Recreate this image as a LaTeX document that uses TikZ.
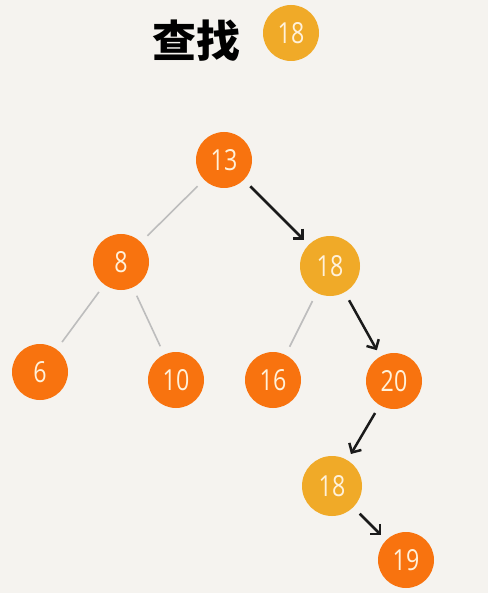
\documentclass[tikz,border=0pt]{standalone}
\usepackage{fontspec}
\newfontfamily\cjk{Noto Sans CJK SC}
\newfontfamily\numfont{Open Sans}[FakeStretch=0.8]
\usetikzlibrary{arrows.meta}
\definecolor{bg}{HTML}{F5F3EF}
\definecolor{orangenode}{HTML}{F8730F}
\definecolor{yellownode}{HTML}{F0AA28}
\definecolor{numtext}{HTML}{FFF1DA}
\definecolor{grayline}{HTML}{BDBDBD}
\definecolor{arrowblack}{HTML}{1A1A1A}
\tikzset{
  x=1pt,y=-1pt,
  onode/.style={circle,fill=orangenode,minimum size=56pt,inner sep=0pt,text=numtext,font=\numfont\fontsize{29}{29}\selectfont},
  ynode/.style={onode,fill=yellownode,minimum size=60pt},
  grayedge/.style={draw=grayline,line width=1.6pt,shorten <=9pt,shorten >=9pt},
  searcharrow/.style={draw=arrowblack,line width=2.5pt,-{Straight Barb[length=7pt,width=14pt,line width=2.5pt]},shorten <=9pt,shorten >=7pt},
}
\begin{document}
\begin{tikzpicture}
\fill[bg] (0,0) rectangle (488,593);
\useasboundingbox (0,0) rectangle (488,593);
\node[font=\cjk\bfseries\fontsize{44}{44}\selectfont] (title) at (196,41) {查找};
\node[ynode,minimum size=56pt] (key) at (291,33) {18};
\node[onode] (n13) at (224,160) {13};
\node[onode] (n8) at (121,262) {8};
\node[ynode] (n18) at (330,266) {18};
\node[onode] (n6) at (40,372) {6};
\node[onode] (n10) at (176,380) {10};
\node[onode] (n16) at (273,380) {16};
\node[onode] (n20) at (394,381) {20};
\node[ynode] (n18b) at (332,486) {18};
\node[onode] (n19) at (406,560) {19};
\path[grayedge] (n13) -- (n8);
\path[grayedge] (n8) -- (n6);
\path[grayedge] (n8) -- (n10);
\path[grayedge] (n18) -- (n16);
\path[searcharrow] (n13) -- (n18);
\path[searcharrow] (n18) -- (n20);
\path[searcharrow] (n20) -- (n18b);
\path[searcharrow] (n18b) -- (n19);
\end{tikzpicture}
\end{document}
